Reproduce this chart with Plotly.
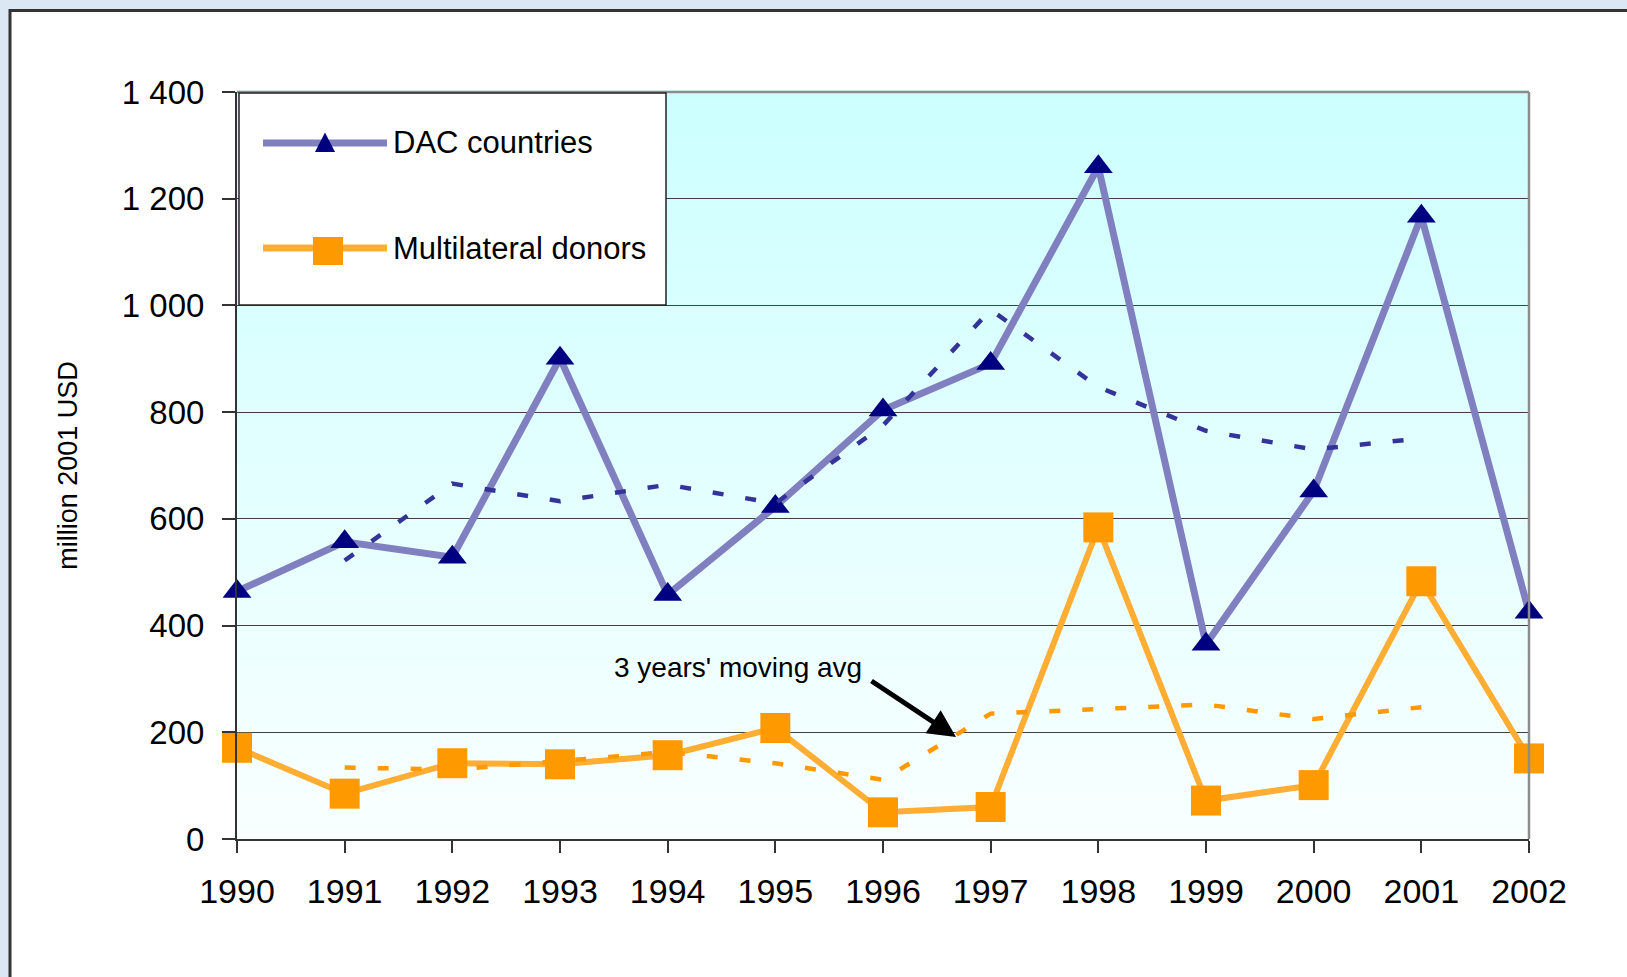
import plotly.graph_objects as go

# ---- data ----
years = [1990, 1991, 1992, 1993, 1994, 1995, 1996, 1997, 1998, 1999, 2000, 2001, 2002]
dac = [464, 557, 528, 901, 458, 623, 804, 891, 1260, 365, 652, 1167, 425]
multi = [171, 85, 142, 140, 157, 208, 50, 60, 584, 72, 101, 483, 151]

ma_years = [1991, 1992, 1993, 1994, 1995, 1996, 1997, 1998, 1999, 2000, 2001]
dac_ma = [522, 666, 633, 664, 629, 775, 992, 847, 765, 730, 751]
multi_ma = [134, 130, 146, 163, 142, 111, 235, 243, 252, 225, 247]

y_ticks = [0, 200, 400, 600, 800, 1000, 1200, 1400]

# ---- geometry / style ----
W, H = 1627, 977
L, R, T, B = 237, 1529, 92, 839
PW, PH = R - L, B - T
FONT = "Liberation Sans, Arial, sans-serif"


def px(x):
    return (x - L) / PW


def py(y):
    return (B - y) / PH


def lerp_color(c1, c2, t):
    a = [int(c1[i:i + 2], 16) for i in (1, 3, 5)]
    b = [int(c2[i:i + 2], 16) for i in (1, 3, 5)]
    return "rgb(%d,%d,%d)" % tuple(round(a[k] + (b[k] - a[k]) * t) for k in range(3))


fig = go.Figure()

fig.add_trace(go.Scatter(
    x=years, y=dac, name="DAC countries", mode="lines+markers",
    line=dict(color="#8080C0", width=7),
    marker=dict(symbol="triangle-up", size=25, color="#000080"),
    cliponaxis=False, showlegend=False))
fig.add_trace(go.Scatter(
    x=years, y=multi, name="Multilateral donors", mode="lines+markers",
    line=dict(color="#FFAD33", width=6),
    marker=dict(symbol="square", size=30, color="#FF9900"),
    cliponaxis=False, showlegend=False))
fig.add_trace(go.Scatter(
    x=ma_years, y=dac_ma, name="DAC countries, 3 years' moving avg", mode="lines",
    line=dict(color="#333399", width=4.5, dash="11px,22px"),
    showlegend=False))
fig.add_trace(go.Scatter(
    x=ma_years, y=multi_ma, name="Multilateral donors, 3 years' moving avg", mode="lines",
    line=dict(color="#FF9900", width=4.5, dash="11px,22px"),
    showlegend=False))

shapes = []
# white chart panel over the textured blue page
shapes.append(dict(type="rect", xref="paper", yref="paper", layer="below",
                   x0=px(10), x1=px(1700), y0=py(1060), y1=py(10.5),
                   fillcolor="white", line=dict(color="#333333", width=3)))
# gradient plot background
N = 80
for i in range(N):
    t = i / (N - 1)
    shapes.append(dict(type="rect", xref="x domain", yref="y domain", layer="below",
                       x0=0, x1=1, y0=1 - (i + 1) / N, y1=1 - i / N + 0.002,
                       fillcolor=lerp_color("#CCFFFF", "#F9FFFF", t),
                       line=dict(width=0)))
# top & right plot border
shapes.append(dict(type="line", xref="paper", yref="paper", layer="above",
                   x0=0, x1=1, y0=1, y1=1, line=dict(color="#8C8C8C", width=2.5)))
shapes.append(dict(type="line", xref="paper", yref="paper", layer="above",
                   x0=1, x1=1, y0=0, y1=1, line=dict(color="#8C8C8C", width=2.5)))

# custom legend
shapes.append(dict(type="rect", xref="paper", yref="paper", layer="above",
                   x0=px(239), x1=px(666), y0=py(305), y1=py(93),
                   fillcolor="white", line=dict(color="#222222", width=1.5)))
shapes.append(dict(type="line", xref="paper", yref="paper", layer="above",
                   x0=px(263), x1=px(387), y0=py(143), y1=py(143),
                   line=dict(color="#8080C0", width=7)))
shapes.append(dict(type="path", xref="paper", yref="paper", layer="above",
                   path="M %f %f L %f %f L %f %f Z" % (px(315), py(152), px(335), py(152), px(325), py(132.5)),
                   fillcolor="#000080", line=dict(width=0)))
shapes.append(dict(type="line", xref="paper", yref="paper", layer="above",
                   x0=px(263), x1=px(387), y0=py(248), y1=py(248),
                   line=dict(color="#FFAD33", width=7)))
shapes.append(dict(type="rect", xref="paper", yref="paper", layer="above",
                   x0=px(313), x1=px(343), y0=py(265), y1=py(237),
                   fillcolor="#FF9900", line=dict(width=0)))

annotations = [
    dict(text="DAC countries", xref="paper", yref="paper", x=px(391), y=py(143),
         xanchor="left", yanchor="middle", showarrow=False,
         font=dict(family=FONT, size=31, color="black")),
    dict(text="Multilateral donors", xref="paper", yref="paper", x=px(391), y=py(248),
         xanchor="left", yanchor="middle", showarrow=False,
         font=dict(family=FONT, size=31, color="black")),
    dict(text="3 years' moving avg", xref="paper", yref="paper", x=px(738), y=py(667),
         xanchor="center", yanchor="middle", showarrow=False,
         font=dict(family=FONT, size=28, color="black")),
    dict(text="", xref="paper", yref="paper", x=px(956), y=py(737),
         ax=-86, ay=-57, showarrow=True, arrowhead=2, arrowsize=1.1,
         arrowwidth=5, arrowcolor="black", standoff=0),
]

fig.update_layout(
    width=W, height=H,
    margin=dict(l=L, r=W - R, t=T, b=H - B, pad=0),
    paper_bgcolor="#DCE7F4",
    plot_bgcolor="rgba(0,0,0,0)",
    separators=". ",
    font=dict(family=FONT, color="black"),
    shapes=shapes,
    annotations=annotations,
    showlegend=False,
)

fig.update_xaxes(
    range=[1990, 2002], tickmode="array", tickvals=years, ticktext=[str(y) for y in years],
    showgrid=False, zeroline=False,
    showline=True, linecolor="#333333", linewidth=2,
    ticks="outside", ticklen=12, tickwidth=1.5, tickcolor="#333333",
    tickfont=dict(family=FONT, size=34, color="black"),
    ticklabelstandoff=9, automargin=False,
)
fig.update_yaxes(
    range=[0, 1400], tickmode="array", tickvals=y_ticks,
    ticktext=[f"{v:,}".replace(",", " ") for v in y_ticks],
    showgrid=True, gridcolor="#404040", gridwidth=1.3, zeroline=False,
    showline=True, linecolor="#333333", linewidth=2,
    ticks="outside", ticklen=13, tickwidth=1.5, tickcolor="#333333",
    tickfont=dict(family=FONT, size=33, color="black"),
    ticklabelstandoff=11, automargin=False,
    title=dict(text="million 2001 USD", standoff=36,
               font=dict(family=FONT, size=27, color="black")),
)

fig.write_html("out.html", config={"displayModeBar": False},
               post_script="document.body.style.margin='0';")
